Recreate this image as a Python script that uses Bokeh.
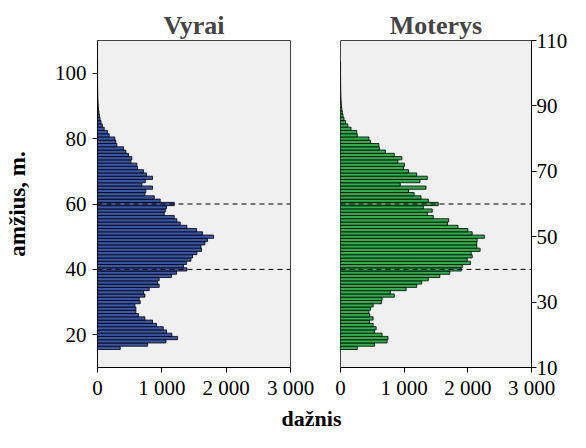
from bokeh.plotting import figure
from bokeh.models import Range1d, FixedTicker, Span, Label, ColumnDataSource
from bokeh.layouts import column, row
from bokeh.embed import file_html
from bokeh.resources import INLINE

# ---- data ----
ages = list(range(16, 104))

men = [353, 778, 1064, 1244, 1157, 1073, 1022, 918, 855, 737,
       638, 597, 597, 582, 664, 648, 737, 716, 804, 959,
       933, 959, 1151, 1229, 1390, 1337, 1384, 1452, 1477, 1545,
       1617, 1608, 1670, 1711, 1804, 1633, 1540, 1390, 1286, 1234,
       1193, 1037, 1053, 1073, 1193, 975, 882, 737, 752, 855,
       690, 742, 855, 762, 716, 622, 612, 519, 534, 482,
       441, 404, 301, 285, 270, 182, 156, 104, 75, 55,
       40, 30, 22, 16, 12, 9, 7, 5, 4, 3,
       2, 2, 1, 1, 1, 1, 1, 1]

women = [264, 534, 731, 746, 653, 534, 560, 513, 457, 513,
         457, 446, 472, 513, 643, 653, 845, 782, 1031, 1197,
         1275, 1379, 1560, 1716, 1897, 1913, 2042, 1990, 2068, 2053,
         2193, 2141, 2141, 2146, 2260, 2068, 2001, 1845, 1679, 1700,
         1457, 1364, 1441, 1301, 1535, 1379, 1265, 1156, 1068, 1343,
         938, 1249, 1364, 1197, 1068, 990, 1006, 902, 964, 845,
         705, 611, 603, 472, 446, 264, 254, 165, 115, 80,
         55, 40, 30, 22, 16, 12, 9, 7, 5, 4,
         3, 2, 2, 1, 1, 1, 1, 1]

panel_titles = ["Vyrai", "Moterys"]
x_ticks = [0, 1000, 2000, 3000]
x_tick_labels = ["0", "1 000", "2 000", "3 000"]
left_y_ticks = [20, 40, 60, 80, 100]
right_y_ticks = [10, 30, 50, 70, 90, 110]
ref_ages = [40, 60]
y_label = "amžius, m."
x_label = "dažnis"

FONT = "Liberation Serif"
TICK_FS = "21px"
BLUE = "#3A56A8"
GREEN = "#2EAD4B"
ROW_H = 403
LABEL_H = 432 - ROW_H


def make_panel(title, values, color, side, width, bl, br, ticks):
    p = figure(width=width, height=ROW_H,
               x_range=Range1d(0, 3000), y_range=Range1d(10, 110),
               output_backend="svg", toolbar_location=None,
               min_border_left=bl, min_border_right=br,
               min_border_top=40, min_border_bottom=ROW_H - 40 - 327,
               y_axis_location=side, title=title)
    p.title.align = "center"
    p.title.text_font = FONT
    p.title.text_font_size = "26px"
    p.title.text_font_style = "bold"
    p.title.standoff = 2
    p.background_fill_color = "#F0F0F0"
    p.border_fill_color = "white"
    p.outline_line_color = "#444444"
    p.outline_line_width = 1
    p.xgrid.visible = False
    p.ygrid.visible = False

    src = ColumnDataSource(dict(age=ages, val=values))
    p.hbar(y="age", right="val", left=0, height=1.0, source=src,
           fill_color=color, line_color="black", line_width=0.8)

    for a in ref_ages:
        p.add_layout(Span(location=a, dimension="width", line_color="black",
                          line_width=1, line_dash="5 4"))

    xa = p.xaxis[0]
    xa.ticker = FixedTicker(ticks=x_ticks)
    xa.major_label_overrides = {t: l for t, l in zip(x_ticks, x_tick_labels)}
    ya = p.yaxis[0]
    ya.ticker = FixedTicker(ticks=ticks)
    for ax in (xa, ya):
        ax.major_label_text_font = FONT
        ax.major_label_text_font_size = TICK_FS
        ax.major_label_text_color = "black"
        ax.axis_line_color = "black"
        ax.major_tick_line_color = "black"
        ax.major_tick_out = 5
        ax.major_tick_in = 0
        ax.minor_tick_line_color = None
    xa.major_label_standoff = 3
    return p


f1 = make_panel(panel_titles[0], men, BLUE, "left", 314, 97, 24, left_y_ticks)
f1.yaxis[0].major_label_standoff = 6
f1.yaxis[0].axis_label = y_label
f1.yaxis[0].axis_label_text_font = FONT
f1.yaxis[0].axis_label_text_font_size = "23px"
f1.yaxis[0].axis_label_text_font_style = "bold"
f1.yaxis[0].axis_label_text_color = "black"
f1.yaxis[0].axis_label_standoff = 22

f2 = make_panel(panel_titles[1], women, GREEN, "right", 256, 26, 37, right_y_ticks)
f2.yaxis[0].major_label_standoff = 0

f3 = figure(width=570, height=LABEL_H, x_range=Range1d(0, 570), y_range=Range1d(0, LABEL_H),
            x_axis_type=None, y_axis_type=None,
            output_backend="svg", toolbar_location=None,
            min_border_left=0, min_border_right=0, min_border_top=0, min_border_bottom=0)
f3.grid.visible = False
f3.outline_line_color = None
f3.add_layout(Label(x=311, y=LABEL_H / 2, text=x_label, text_font=FONT, text_font_size="22px",
                    text_font_style="bold", text_align="center",
                    text_baseline="middle", text_color="black"))

layout = column(row(f1, f2), f3)
open("out.html", "w").write(file_html(layout, INLINE))
